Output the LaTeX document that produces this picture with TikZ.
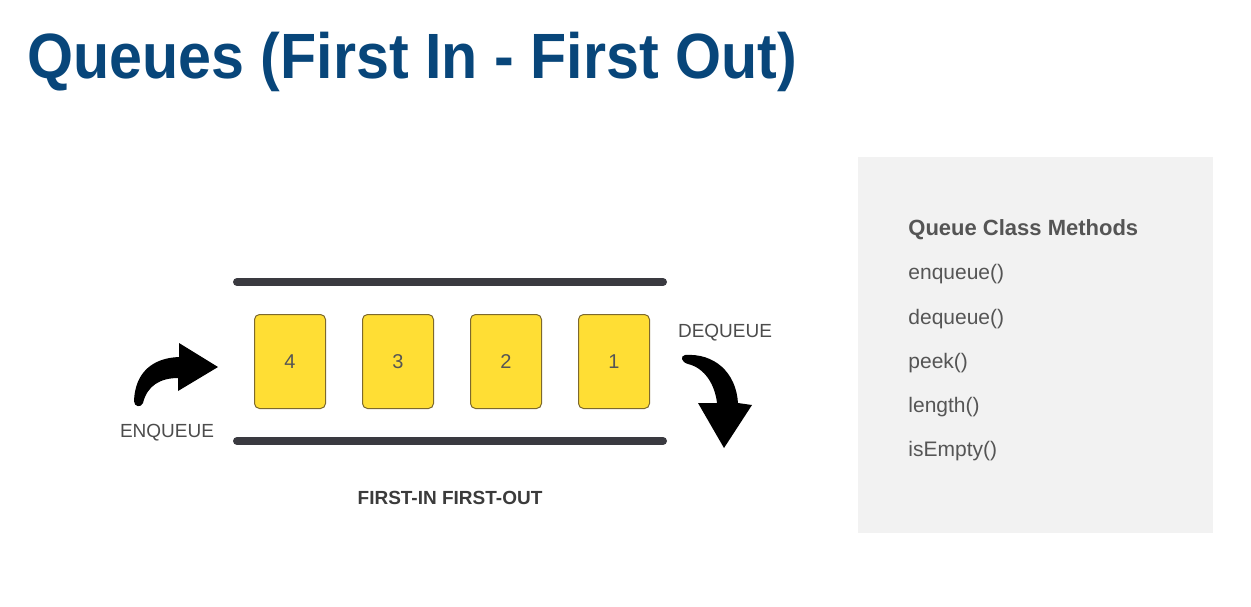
\documentclass[tikz,border=0pt]{standalone}
\usepackage{fontspec}
\setmainfont{Liberation Sans}
\usetikzlibrary{positioning}
\definecolor{titleblue}{RGB}{8,70,122}
\definecolor{bargray}{RGB}{58,58,64}
\definecolor{slotyellow}{RGB}{255,222,52}
\definecolor{slotedge}{RGB}{125,105,45}
\definecolor{panelgray}{RGB}{242,242,242}
\definecolor{textgray}{RGB}{85,85,85}
\tikzstyle{slot} = [rectangle, draw=slotedge, fill=slotyellow, rounded corners=2.5pt, line width=0.5pt, minimum width=35.5pt, minimum height=47pt, text=textgray, font=\fontsize{10}{12}\selectfont]
\tikzstyle{bar} = [line width=4pt, line cap=round, draw=bargray]
\tikzstyle{caption} = [text=textgray!90!black, font=\fontsize{9.5}{11}\selectfont, inner sep=0pt]
\tikzstyle{method} = [anchor=base west, text=textgray, inner sep=0pt, font=\fontsize{10.5}{13}\selectfont]

\begin{document}
\begin{tikzpicture}[x=0.5pt,y=-0.5pt]
            \useasboundingbox (0,0) rectangle (1251,606);
            % title
            \node[anchor=base west, inner sep=0pt, xscale=0.925, text=titleblue, font=\fontsize{32}{36}\selectfont\bfseries] (title) at (27,78) {Queues (First In - First Out)};
            % queue walls
            \draw[bar] (237,282) -- (663,282);
            \draw[bar] (237,441) -- (663,441);
            % items
            \node[slot] (s4) at (290,361.5) {4};
            \node[slot, right=18pt of s4] (s3) {3};
            \node[slot, right=18pt of s3] (s2) {2};
            \node[slot, right=18pt of s2] (s1) {1};
            % enqueue arrow
            \fill (134,401) .. controls (135,373) and (152,358) .. (179,357) -- (179,343) -- (218,367)
                -- (178,391) -- (178,378) .. controls (160,378) and (147,386) .. (143,403)
                .. controls (141,408) and (134,407) .. (134,401) -- cycle;
            % dequeue arrow
            \fill (685,355) .. controls (714,353) and (736,372) .. (738,403) -- (752,405) -- (724,448)
                -- (698,403) -- (717,403) .. controls (715,385) and (705,368) .. (688,364)
                .. controls (681,362) and (680,356) .. (685,355) -- cycle;
            \node[caption] (enq) at (167,433) {ENQUEUE};
            \node[caption] (deq) at (725,333) {DEQUEUE};
            \node[caption, font=\fontsize{9.5}{11}\selectfont\bfseries, text=textgray!70!black] (fifo) at (450,498) {FIRST-IN FIRST-OUT};
            % methods panel
            \fill[panelgray] (858,157) rectangle (1213,533);
            \node[method, font=\fontsize{11}{13}\selectfont\bfseries] (head) at (908,235) {Queue Class Methods};
            \node[method] (m1) at (908,279) {enqueue()};
            \node[method] (m2) at (908,324) {dequeue()};
            \node[method] (m3) at (908,368) {peek()};
            \node[method] (m4) at (908,412) {length()};
            \node[method] (m5) at (908,456) {isEmpty()};
        \end{tikzpicture}
\end{document}
